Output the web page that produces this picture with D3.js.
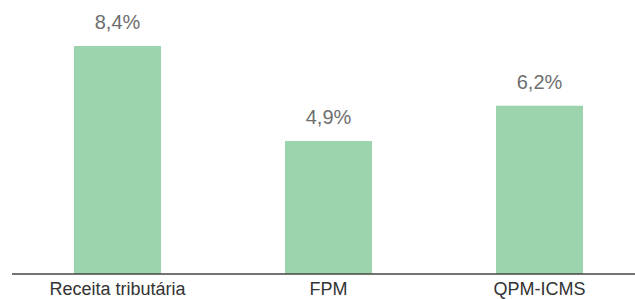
<!DOCTYPE html>
<html>
<head>
<meta charset="utf-8">
<script src="https://cdn.jsdelivr.net/npm/d3@7"></script>
<style>
  html, body { margin: 0; padding: 0; background: #fff; }
  svg { display: block; }
</style>
</head>
<body>
<svg id="chart" width="635" height="299"></svg>
<script>
const categories = ["Receita tributária", "FPM", "QPM-ICMS"];
const values = [8.4, 4.9, 6.2];
const valueLabels = ["8,4%", "4,9%", "6,2%"];

const svg = d3.select("#chart");
const baseY = 274;

const x = d3.scaleBand()
  .domain(categories)
  .range([12, 645])
  .paddingInner(0.5877)
  .paddingOuter(0.5877 / 2);

const y = d3.scaleLinear()
  .domain([0, 8.4])
  .range([baseY, 46]);

svg.selectAll("rect.bar")
  .data(values)
  .enter().append("rect")
  .attr("class", "bar")
  .attr("x", (d, i) => x(categories[i]))
  .attr("width", x.bandwidth())
  .attr("y", d => y(d))
  .attr("height", d => baseY - y(d))
  .attr("fill", "#9cd4ad");

svg.selectAll("text.val")
  .data(values)
  .enter().append("text")
  .attr("class", "val")
  .attr("x", (d, i) => x(categories[i]) + x.bandwidth() / 2)
  .attr("y", d => y(d) - 17)
  .attr("text-anchor", "middle")
  .attr("font-family", "Liberation Sans, Arial, sans-serif")
  .attr("font-size", "20px")
  .attr("fill", "#6e6e6e")
  .text((d, i) => valueLabels[i]);

const axis = d3.axisBottom(x).tickSize(0).tickPadding(0);
const g = svg.append("g").attr("transform", `translate(0,${baseY})`).call(axis);
g.select(".domain").attr("d", "M12,0H635").attr("stroke", "#444").attr("stroke-width", 1.5);
g.selectAll(".tick text")
  .attr("dy", null)
  .attr("y", 21)
  .attr("font-family", "Liberation Sans, Arial, sans-serif")
  .attr("font-size", "18px")
  .attr("fill", "#333");
</script>
</body>
</html>
